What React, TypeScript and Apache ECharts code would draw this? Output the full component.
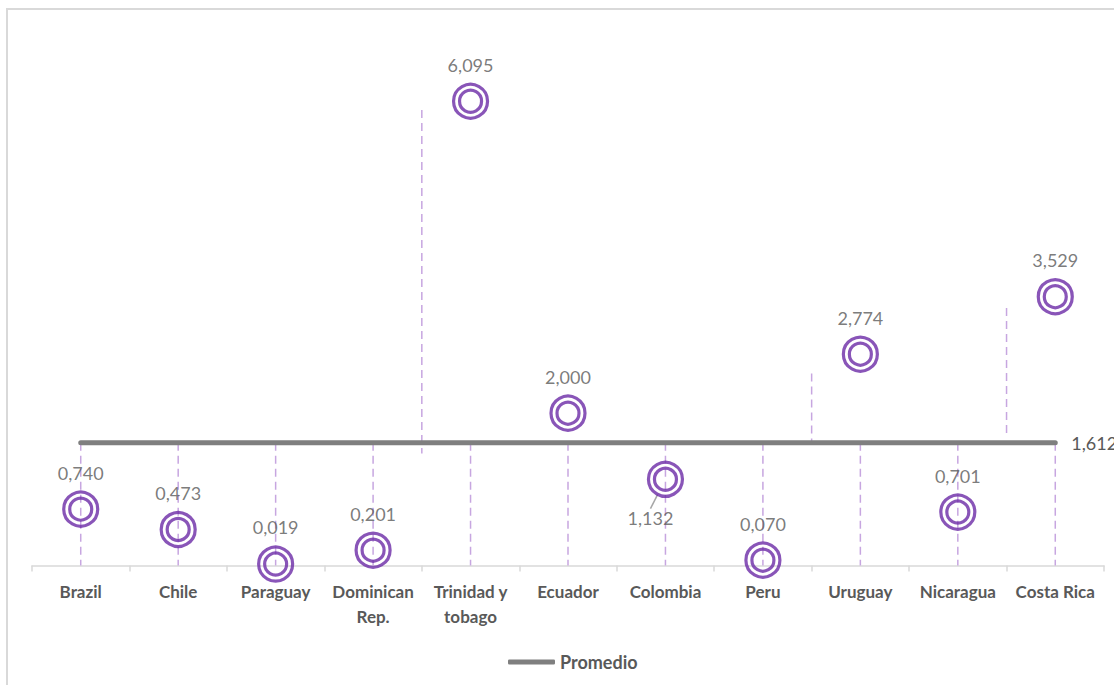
import React, { useEffect, useRef } from "react";
import * as echarts from "echarts";

const CATEGORIES = [
  "Brazil",
  "Chile",
  "Paraguay",
  "Dominican\nRep.",
  "Trinidad y\ntobago",
  "Ecuador",
  "Colombia",
  "Peru",
  "Uruguay",
  "Nicaragua",
  "Costa Rica",
];
const VALUES = [0.74, 0.473, 0.019, 0.201, 6.095, 2.0, 1.132, 0.07, 2.774, 0.701, 3.529];
const AVERAGE = 1.612;
// index of the point whose label sits below-left with a leader line
const LABEL_BELOW_INDEX = 6;
// extra dashed segments drawn at the left boundary of these categories
const SEG_INDEX = [4, 8, 10];
const SEG_HIGH = [5.98, 2.52, 3.38];
const SEG_LOW = [1.47, 1.612, 1.73];

const PURPLE = "#6c2aa6";
const DASH = "#c7a6e0";
const TEXT = "#595959";
const FONT = "Lato, 'Open Sans', sans-serif";

const fmt = (v: number) => v.toFixed(3).replace(".", ",");

export default function App() {
  const ref = useRef<HTMLDivElement>(null);
  useEffect(() => {
    if (!ref.current) return;
    const chart = echarts.init(ref.current, null, { renderer: "svg" });
    const dropData = CATEGORIES.map((_, i) => [i, AVERAGE, 0]);
    const segData = SEG_INDEX.map((idx, k) => [idx, SEG_HIGH[k], SEG_LOW[k]]);
    const pointData = VALUES.map((v, i) =>
      i === LABEL_BELOW_INDEX
        ? { value: v, labelLine: { show: true, lineStyle: { color: "#a6a6a6", width: 1.5 } } }
        : v
    );
    const dashed = (shiftHalf: boolean) => (params: any, api: any) => {
      const i = api.value(0);
      const hi = api.coord([i, api.value(1)]);
      const lo = api.coord([i, api.value(2)]);
      const shift = shiftHalf ? -api.size([1, 0])[0] / 2 : 0;
      return {
        type: "line",
        shape: { x1: hi[0] + shift, y1: hi[1], x2: lo[0] + shift, y2: lo[1] },
        style: { stroke: DASH, lineWidth: 1.5, lineDash: [8, 5] },
      };
    };
    chart.setOption({
      animation: false,
      textStyle: { fontFamily: FONT },
      graphic: [
        {
          type: "rect",
          shape: { x: 7, y: 9, width: 1300, height: 900 },
          style: { fill: "none", stroke: "#d9d9d9", lineWidth: 2 },
          silent: true,
        },
      ],
      grid: { left: 32, right: 10, top: 32.3, bottom: 119.5, containLabel: false },
      legend: {
        data: ["Promedio"],
        left: 503,
        top: 648,
        icon: "roundRect",
        itemWidth: 47,
        itemHeight: 5,
        textStyle: { color: TEXT, fontSize: 18, fontWeight: "bold", fontFamily: FONT },
      },
      xAxis: {
        type: "category",
        data: CATEGORIES,
        boundaryGap: true,
        axisLine: { lineStyle: { color: "#d9d9d9", width: 1.5 } },
        axisTick: { show: true, length: 6, lineStyle: { color: "#d9d9d9", width: 1.5 } },
        axisLabel: {
          color: TEXT,
          fontSize: 17,
          fontWeight: "bold",
          fontFamily: FONT,
          margin: 13,
          lineHeight: 25,
          interval: 0,
        },
        splitLine: { show: false },
      },
      yAxis: {
        type: "value",
        min: 0,
        max: 7,
        show: false,
        splitLine: { show: false },
      },
      series: [
        {
          type: "custom",
          name: "drop",
          data: dropData,
          encode: { x: 0, y: [1, 2] },
          renderItem: dashed(false),
          z: 1,
          silent: true,
        },
        {
          type: "custom",
          name: "seg",
          data: segData,
          encode: { x: 0, y: [1, 2] },
          renderItem: dashed(true),
          z: 1,
          silent: true,
        },
        {
          type: "line",
          name: "Promedio",
          data: CATEGORIES.map(() => AVERAGE),
          showSymbol: false,
          symbol: "none",
          lineStyle: { color: "#7f7f7f", width: 5, cap: "round" },
          itemStyle: { color: "#7f7f7f" },
          endLabel: {
            show: true,
            formatter: () => fmt(AVERAGE),
            distance: 16,
            color: TEXT,
            fontSize: 18,
            fontFamily: FONT,
          },
          z: 2,
          silent: true,
        },
        {
          type: "scatter",
          name: "outer",
          data: pointData,
          symbol: "circle",
          symbolSize: 34,
          itemStyle: { color: "rgba(0,0,0,0)", borderColor: PURPLE, borderWidth: 3.2 },
          label: {
            show: true,
            position: "top",
            distance: 9,
            color: TEXT,
            fontSize: 18,
            fontFamily: FONT,
            formatter: (p: any) => fmt(p.value),
          },
          labelLine: { show: false },
          labelLayout: (p: any) =>
            p.dataIndex === LABEL_BELOW_INDEX ? { dx: -15, dy: 75 } : {},
          z: 3,
          silent: true,
        },
        {
          type: "scatter",
          name: "inner",
          data: VALUES,
          symbol: "circle",
          symbolSize: 22,
          itemStyle: { color: "rgba(0,0,0,0)", borderColor: PURPLE, borderWidth: 3.2 },
          z: 3,
          silent: true,
        },
      ],
    });
    return () => chart.dispose();
  }, []);
  return (
    <div
      ref={ref}
      style={{ position: "absolute", left: 0, top: 0, width: 1114, height: 685 }}
    />
  );
}
